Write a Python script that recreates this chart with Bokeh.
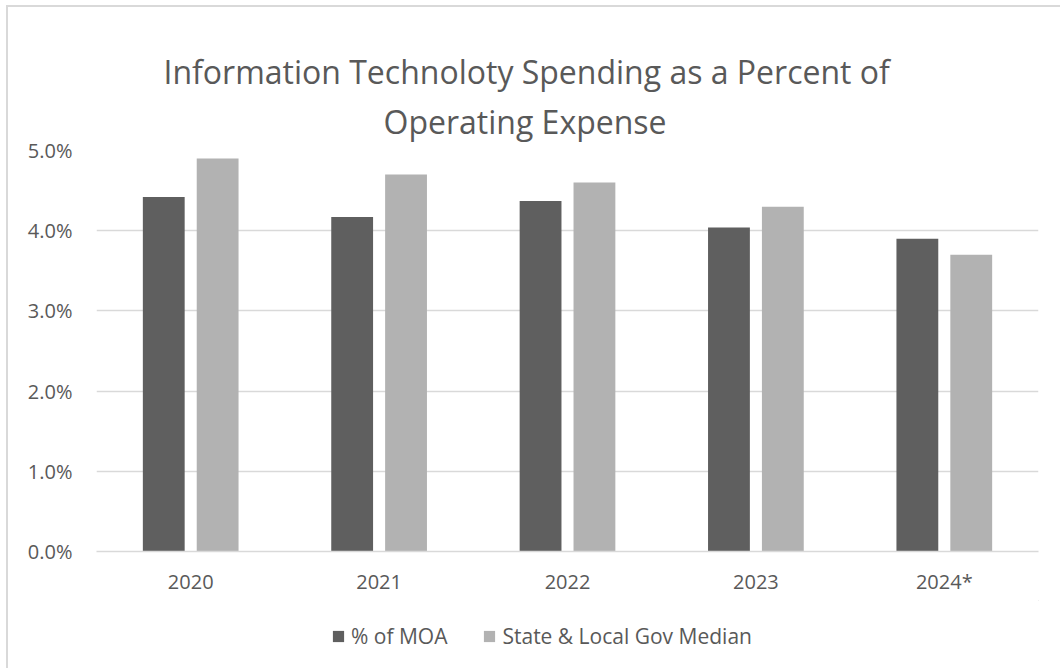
from bokeh.plotting import figure
from bokeh.layouts import column
from bokeh.models import (FactorRange, Range1d, FixedTicker, PrintfTickFormatter,
                          Legend, LegendItem, Title, ColumnDataSource)
from bokeh.transform import dodge
from bokeh.core.properties import value
from bokeh.embed import file_html
from bokeh.resources import INLINE

# ---- data ----
years = ["2020", "2021", "2022", "2023", "2024*"]
moa = [4.42, 4.17, 4.37, 4.04, 3.90]
state_local = [4.9, 4.7, 4.6, 4.3, 3.7]
series_names = ["% of MOA", "State & Local Gov Median"]
title_lines = ["Information Technoloty Spending as a Percent of", "Operating Expense"]
y_ticks = [0, 1, 2, 3, 4, 5]

FONT = "Open Sans"
TEXT = "#595959"
GRID = "#d9d9d9"
DARK = "#5f5f5f"
LIGHT = "#b2b2b2"

src = ColumnDataSource(dict(year=years, moa=moa, sl=state_local))

# ---------------- main chart ----------------
p = figure(x_range=FactorRange(*years, range_padding=0), y_range=Range1d(0, 5),
           width=1060, height=600, output_backend="svg", toolbar_location=None,
           min_border_left=96, min_border_right=22, min_border_top=150,
           min_border_bottom=49)
p.border_fill_alpha = 0
p.styles = {"background": ("linear-gradient(#d9d9d9,#d9d9d9) 6px 5px / 2px 100% no-repeat, "
                           "linear-gradient(#d9d9d9,#d9d9d9) 6px 5px / 100% 2px no-repeat, "
                           "#ffffff")}

bar_kw = dict(width=0.222, source=src, line_color=None)
r1 = p.vbar(x=dodge("year", -0.143, range=p.x_range), top="moa", fill_color=DARK, **bar_kw)
r2 = p.vbar(x=dodge("year", 0.143, range=p.x_range), top="sl", fill_color=LIGHT, **bar_kw)

p.outline_line_color = None
p.xgrid.grid_line_color = None
p.ygrid.grid_line_color = GRID
p.ygrid.grid_line_width = 1.3

p.yaxis.ticker = FixedTicker(ticks=y_ticks)
p.yaxis.formatter = PrintfTickFormatter(format="%.1f%%")
p.yaxis.axis_line_color = None
p.yaxis.major_tick_line_color = None
p.yaxis.minor_tick_line_color = None
p.yaxis.major_label_standoff = 18

p.xaxis.axis_line_color = GRID
p.xaxis.axis_line_width = 1.3
p.xaxis.major_tick_line_color = None
p.xaxis.minor_tick_line_color = None
p.xaxis.major_label_standoff = 10

for ax in (p.xaxis, p.yaxis):
    ax.major_label_text_font = FONT
    ax.major_label_text_font_size = "20px"
    ax.major_label_text_color = TEXT

# title (second line added first so it sits closest to the plot)
for txt, off, so in [(title_lines[1], 287, 15), (title_lines[0], 67, -5)]:
    p.add_layout(Title(text=txt, align="left", offset=off, standoff=so,
                       text_font=FONT, text_font_size="32px",
                       text_font_style="normal", text_color=TEXT), "above")

# ---------------- legend strip ----------------
lg = figure(width=1060, height=68, output_backend="svg", toolbar_location=None,
            x_range=Range1d(0, 1), y_range=Range1d(0, 1),
            x_axis_type=None, y_axis_type=None, min_border=0)
lg.outline_line_color = None
lg.xgrid.visible = False
lg.ygrid.visible = False
lg.border_fill_alpha = 0
lg.background_fill_alpha = 0
lg.styles = {"background": ("linear-gradient(#d9d9d9,#d9d9d9) 6px 0 / 2px 100% no-repeat, "
                            "#ffffff")}

# key swatches only: their single bar lies outside the visible range
k1 = lg.vbar(x=[5], top=[5], bottom=[4], width=0.1, fill_color=DARK, line_color=None)
k2 = lg.vbar(x=[5], top=[5], bottom=[4], width=0.1, fill_color=LIGHT, line_color=None)

legend = Legend(items=[LegendItem(label=value(series_names[0]), renderers=[k1]),
                       LegendItem(label=value(series_names[1]), renderers=[k2])],
                location=(235, 18), orientation="horizontal",
                glyph_width=14, glyph_height=14, label_standoff=6, spacing=35,
                padding=0, margin=0, border_line_color=None,
                background_fill_alpha=0, label_text_font=FONT,
                label_text_font_size="21px", label_text_color=TEXT)
lg.add_layout(legend)

layout = column(p, lg, spacing=0)
open("out.html", "w").write(file_html(layout, INLINE))
